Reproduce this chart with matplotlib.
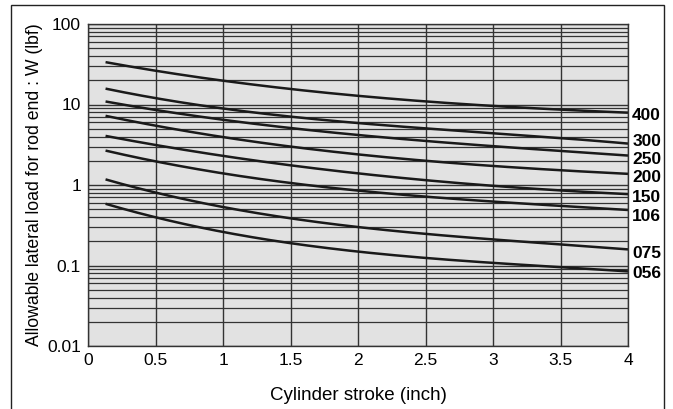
import numpy as np
import matplotlib.pyplot as plt
from matplotlib.patches import Rectangle
from matplotlib.ticker import FixedLocator, FixedFormatter, NullFormatter

plt.rcParams['font.family'] = ['Liberation Sans', 'DejaVu Sans']

# stroke positions where values were read
stroke = [0.13, 0.5, 1.0, 1.5, 2.0, 2.5, 3.0, 3.5, 4.0]

# allowable lateral load (lbf) per bore size
load_400 = [33.7, 26.0, 20.0, 15.5, 12.8, 11.0, 9.5, 8.7, 7.9]
load_300 = [16.0, 11.7, 9.0, 6.9, 6.1, 5.1, 4.3, 3.8, 3.3]
load_250 = [11.1, 8.3, 6.5, 5.1, 4.2, 3.6, 3.0, 2.6, 2.35]
load_200 = [7.4, 5.2, 4.0, 3.1, 2.35, 2.0, 1.7, 1.55, 1.37]
load_150 = [4.2, 2.95, 2.35, 1.8, 1.4, 1.12, 0.98, 0.86, 0.77]
load_106 = [2.7, 1.93, 1.41, 1.06, 0.85, 0.72, 0.62, 0.55, 0.49]
load_075 = [1.19, 0.79, 0.53, 0.39, 0.30, 0.25, 0.21, 0.18, 0.16]
load_056 = [0.60, 0.38, 0.26, 0.195, 0.15, 0.123, 0.107, 0.095, 0.085]

series = [("400", load_400), ("300", load_300), ("250", load_250),
          ("200", load_200), ("150", load_150), ("106", load_106),
          ("075", load_075), ("056", load_056)]

# vertical nudge of each end label, in points
label_dy = [-2, 1.5, -2.5, -2.5, -2.5, -5, -3, -1.5]

x_ticks = [0, 0.5, 1, 1.5, 2, 2.5, 3, 3.5, 4]
x_labels = ["0", "0.5", "1", "1.5", "2", "2.5", "3", "3.5", "4"]
y_ticks = [0.01, 0.1, 1, 10, 100]
y_labels = ["0.01", "0.1", "1", "10", "100"]

fig = plt.figure(figsize=(6.73, 4.09), dpi=100)
ax = fig.add_axes([88/673, 1-346/409, 540/673, 322/409])

# outer frame
fig.patches.append(Rectangle((11/673, -0.05), 653/673, 1.05 - 5/409,
                             transform=fig.transFigure, fill=False,
                             edgecolor='#222222', linewidth=1.0))

ax.set_facecolor('#e2e2e2')
ax.set_yscale('log')
ax.set_xlim(0, 4)
ax.set_ylim(0.01, 100)

ax.xaxis.set_major_locator(FixedLocator(x_ticks))
ax.xaxis.set_major_formatter(FixedFormatter(x_labels))
ax.yaxis.set_major_locator(FixedLocator(y_ticks))
ax.yaxis.set_major_formatter(FixedFormatter(y_labels))
minors = [m * 10.0**e for e in range(-2, 2) for m in range(2, 10)]
ax.yaxis.set_minor_locator(FixedLocator(minors))
ax.yaxis.set_minor_formatter(NullFormatter())

ax.grid(True, which='major', axis='both', color='#333333', linewidth=1.0)
ax.grid(True, which='minor', axis='y', color='#333333', linewidth=0.9)
ax.tick_params(which='both', length=0, labelsize=12.5, pad=5)
for s in ax.spines.values():
    s.set_color('#333333')
    s.set_linewidth(1.0)
ax.set_axisbelow(True)

for (name, vals), dy in zip(series, label_dy):
    # smooth curve through the read points (cubic in log space)
    coef = np.polyfit(stroke, np.log10(vals), 3)
    xs = np.linspace(stroke[0], stroke[-1], 200)
    ys = 10**np.polyval(coef, xs)
    ax.plot(xs, ys, color='#1a1a1a', linewidth=1.8, solid_capstyle='butt')
    ax.annotate(name, xy=(4, ys[-1]), xytext=(3, dy), textcoords='offset points',
                ha='left', va='center', fontsize=12.5, fontweight='bold',
                annotation_clip=False)

ax.set_xlabel("Cylinder stroke (inch)", fontsize=13.5, labelpad=14)
ax.set_ylabel("Allowable lateral load for rod end : W (lbf)", fontsize=12.7, labelpad=3)

fig.savefig("out.png", dpi=100)
